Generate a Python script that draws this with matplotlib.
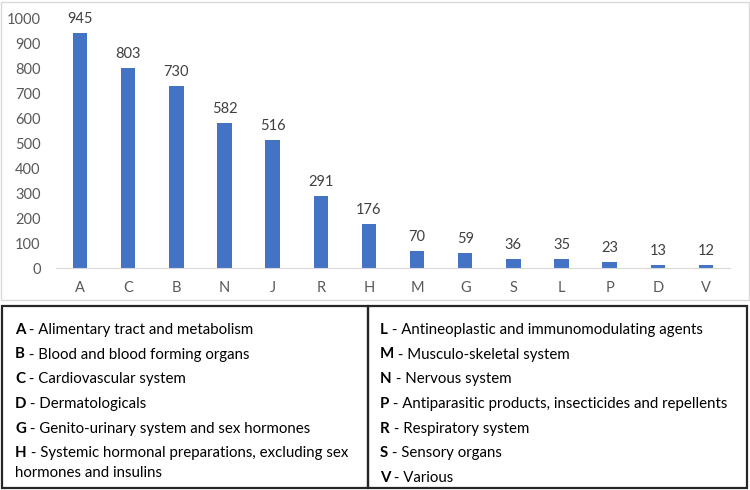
import matplotlib.pyplot as plt
from matplotlib.patches import Rectangle

categories = ["A", "C", "B", "N", "J", "R", "H", "M", "G", "S", "L", "P", "D", "V"]
counts = [945, 803, 730, 582, 516, 291, 176, 70, 59, 36, 35, 23, 13, 12]

left_codes = ["A", "B", "C", "D", "G", "H", ""]
left_names = [
    "Alimentary tract and metabolism",
    "Blood and blood forming organs",
    "Cardiovascular system",
    "Dermatologicals",
    "Genito-urinary system and sex hormones",
    "Systemic hormonal preparations, excluding sex",
    "hormones and insulins",
]
right_codes = ["L", "M", "N", "P", "R", "S", "V"]
right_names = [
    "Antineoplastic and immunomodulating agents",
    "Musculo-skeletal system",
    "Nervous system",
    "Antiparasitic products, insecticides and repellents",
    "Respiratory system",
    "Sensory organs",
    "Various",
]

plt.rcParams["font.family"] = ["Lato", "DejaVu Sans"]

W, H = 750, 490
fig = plt.figure(figsize=(W / 100, H / 100), dpi=100)

# outer light frame of the chart area
fig.patches.append(Rectangle((1 / W, (H - 300) / H), 748 / W, 298 / H,
                             transform=fig.transFigure, fill=False,
                             edgecolor="#D9D9D9", linewidth=1))

ax = fig.add_axes([56 / W, (H - 268) / H, 674 / W, 249 / H])
x = range(len(categories))
ax.bar(x, counts, width=0.3, color="#4472C4")
ax.set_xlim(-0.5, len(categories) - 0.5)
ax.set_ylim(0, 1000)
ax.set_yticks(range(0, 1001, 100))
ax.set_xticks(list(x))
ax.set_xticklabels(categories)
for s in ["top", "right", "left"]:
    ax.spines[s].set_visible(False)
ax.spines["bottom"].set_color("#D9D9D9")
ax.tick_params(axis="both", length=0, colors="#595959", labelsize=10.5)
ax.tick_params(axis="x", pad=9)
ax.tick_params(axis="y", pad=11)
for xi, v in zip(x, counts):
    ax.annotate(str(v), (xi, v), xytext=(0, 5), textcoords="offset points",
                ha="center", va="bottom", fontsize=10.5, color="#404040")

# legend box
top, bottom, mid = 306, 488, 368
boxes = []
for x0, x1 in [(2, mid), (mid, 747)]:
    r = Rectangle((x0 / W, (H - bottom) / H), (x1 - x0) / W,
                  (bottom - top) / H, transform=fig.transFigure,
                  fill=False, edgecolor="#262626", linewidth=1.6)
    fig.patches.append(r)
    boxes.append(r)

left_ys = [334, 358.5, 383, 408, 432.5, 457, 477]
right_ys = [334, 358.5, 383, 408, 432.5, 457, 482]
fs = 10.8


def write_column(codes, names, x0, ys, box):
    for code, name, y in zip(codes, names, ys):
        if code:
            t = fig.text(x0 / W, (H - y) / H, code, fontsize=fs,
                         fontweight="bold", color="black", va="baseline")
            t.set_clip_path(box)
            a = ax.annotate(" - " + name, xy=(1, 0), xycoords=t, va="bottom",
                            ha="left", fontsize=fs, color="black",
                            annotation_clip=False)
            a.set_clip_path(box)
        else:
            fig.text(x0 / W, (H - y) / H, name, fontsize=fs, color="black",
                     va="baseline")


write_column(left_codes, left_names, 15, left_ys, boxes[0])
write_column(right_codes, right_names, 380, right_ys, boxes[1])

fig.savefig("out.png", dpi=100)
